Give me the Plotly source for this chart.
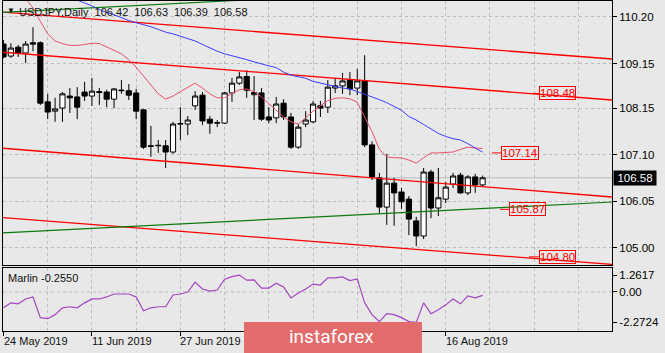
import pandas as pd
import plotly.graph_objects as go

W, H = 665, 353

# ---------------- data ----------------
dates = pd.bdate_range("2019-05-24", "2019-08-23")  # 66 daily bars
bars = list(range(len(dates)))

opens = [109.59, 109.32, 109.52, 109.39, 109.62, 109.62, 108.29, 108.08, 108.15, 108.42,
         108.40, 108.51, 108.42, 108.52, 108.51, 108.35, 108.54, 108.54, 108.49, 108.11,
         107.30, 107.30, 107.30, 107.16, 107.79, 107.79, 108.20, 108.44, 107.90, 107.81,
         107.81, 108.49, 108.71, 108.86, 108.45, 108.49, 107.95, 107.93, 108.26, 107.95,
         107.27, 107.79, 107.84, 108.20, 108.17, 108.60, 108.65, 108.78, 108.60, 108.76,
         107.32, 106.58, 105.92, 106.46, 106.26, 106.10, 105.61, 105.27, 106.71, 105.90,
         106.10, 106.44, 106.64, 106.24, 106.60, 106.42]
highs = [109.68, 109.61, 109.57, 109.66, 109.97, 109.65, 108.47, 108.38, 108.51, 108.60,
         108.62, 108.74, 108.83, 108.60, 108.56, 108.60, 108.78, 108.69, 108.58, 108.13,
         107.75, 107.43, 107.43, 107.84, 108.17, 107.97, 108.53, 108.51, 107.97, 107.88,
         108.51, 108.83, 108.96, 109.00, 108.87, 108.60, 108.17, 108.40, 108.35, 108.04,
         107.79, 108.08, 108.31, 108.31, 108.78, 108.83, 108.94, 108.96, 109.03, 109.34,
         107.40, 106.69, 107.12, 106.58, 106.35, 106.17, 105.70, 106.80, 106.76, 106.80,
         106.49, 106.69, 106.69, 106.64, 106.67, 106.63]
lows = [109.27, 109.28, 109.30, 109.16, 109.43, 108.22, 107.90, 107.84, 107.84, 108.04,
        107.90, 108.31, 108.20, 108.22, 108.17, 108.15, 108.47, 108.33, 107.90, 107.23,
        107.05, 107.14, 106.80, 107.12, 107.43, 107.54, 108.11, 107.77, 107.57, 107.72,
        107.79, 108.29, 108.67, 108.38, 107.88, 107.86, 107.81, 107.81, 107.88, 107.23,
        107.23, 107.72, 107.81, 107.95, 108.04, 108.49, 108.47, 108.44, 108.44, 107.27,
        106.53, 105.79, 105.52, 105.50, 105.88, 105.29, 105.04, 105.20, 105.67, 105.72,
        106.01, 106.35, 106.22, 106.19, 106.24, 106.39]
closes = [109.30, 109.50, 109.39, 109.59, 109.59, 108.26, 108.06, 108.13, 108.47, 108.38,
          108.17, 108.42, 108.53, 108.50, 108.35, 108.58, 108.55, 108.44, 108.08, 107.27,
          107.29, 107.31, 107.16, 107.79, 107.80, 107.88, 108.42, 107.86, 107.81, 107.82,
          108.49, 108.71, 108.85, 108.55, 108.50, 107.90, 107.88, 108.24, 107.95, 107.27,
          107.72, 107.88, 108.24, 108.15, 108.62, 108.65, 108.76, 108.58, 108.76, 107.32,
          106.60, 105.92, 106.46, 106.24, 106.04, 105.65, 105.27, 106.71, 105.90, 106.13,
          106.37, 106.62, 106.24, 106.60, 106.42, 106.58]

# Balance line (red, thin) from bar 3 onward
balance_first_bar = 3
balance_line = [110.62, 110.40, 110.10, 109.82, 109.66, 109.60, 109.56, 109.56, 109.58, 109.61,
                109.60, 109.53, 109.45, 109.37, 109.24, 109.07, 108.87, 108.68, 108.47, 108.35,
                108.42, 108.52, 108.62, 108.71, 108.60, 108.47, 108.38, 108.38, 108.48, 108.56,
                108.58, 108.52, 108.40, 108.25, 108.11, 107.95, 107.84, 107.79, 107.93, 108.08,
                108.20, 108.32, 108.37, 108.38, 108.36, 108.28, 107.95, 107.62, 107.22, 107.05,
                107.03, 107.03, 106.98, 106.91, 107.03, 107.14, 107.14, 107.15, 107.16, 107.22,
                107.27, 107.25, 107.24]
# Kruzenshtern line (blue) from bar 10 onward
kruz_first_bar = 10
kruz_line = [110.58, 110.52, 110.45, 110.37, 110.30, 110.25, 110.18, 110.12, 110.07, 110.03,
             109.98, 109.92, 109.86, 109.82, 109.77, 109.72, 109.66, 109.58, 109.50, 109.43,
             109.37, 109.33, 109.29, 109.24, 109.19, 109.14, 109.10, 109.06, 108.96, 108.89,
             108.86, 108.82, 108.75, 108.71, 108.68, 108.64, 108.60, 108.58, 108.52, 108.47,
             108.40, 108.34, 108.27, 108.19, 108.10, 107.96, 107.88, 107.78, 107.68, 107.58,
             107.51, 107.46, 107.43, 107.35, 107.25, 107.16]

# Marlin oscillator
marlin = [-1.18, -0.81, -0.88, -0.52, -0.37, -1.91, -1.99, -1.69, -1.18, -1.10,
          -1.18, -0.81, -0.52, -0.52, -0.37, -0.15, -0.15, -0.15, -0.37, -1.40,
          -1.18, -1.10, -1.10, -0.22, -0.15, 0.00, 0.74, 0.22, 0.07, 0.15,
          0.95, 1.15, 1.26, 0.88, 0.90, 0.29, 0.29, 0.66, 0.37, -0.44,
          -0.07, 0.22, 0.59, 0.52, 1.05, 1.05, 1.12, 0.85, 0.98, -0.81,
          -1.69, -2.21, -1.62, -1.69, -1.91, -2.21, -2.27, -0.81, -1.62, -1.33,
          -0.96, -0.52, -0.88, -0.29, -0.44, -0.255]

# Trend lines: bar positions of the two ends, and prices at those ends
trend_bars = [-0.475, 82.56]
red_channel = [[110.313, 109.254], [109.412, 108.331], [107.251, 106.148], [105.687, 104.630]]
green_channel = [[110.302, 111.000], [105.337, 106.035]]

# Price labels placed on the chart
label_values = [108.48, 107.14, 105.87, 104.80]
label_bars = [71.85, 66.28, 67.37, 71.30]

last_price = 106.58
title_text = "USDJPY,Daily \u00a0106.42 \u00a0106.63 \u00a0106.39 \u00a0106.58"
marlin_label = "Marlin -0.2550"

price_ticks = [110.20, 109.15, 108.15, 107.10, 106.05, 105.00]
marlin_ticks = [1.2617, 0.00, -2.2724]
marlin_tick_text = ["1.2617", "0.00", "-2.2724"]
date_tick_bars = [0, 12, 24, 60]
date_tick_labels = ["24 May 2019", "11 Jun 2019", "27 Jun 2019", "16 Aug 2019"]
grid_major_bars = [0, 12, 24, 36, 48, 60]
grid_minor_bars = [6, 18, 30, 42, 54, 66, 72, 78]

# ---------------- figure ----------------
BG = "#e8e8e8"
GRID = "#bcbcbc"
FONT = "Liberation Sans"

fig = go.Figure()

fig.add_trace(go.Candlestick(
    x=bars, open=opens, high=highs, low=lows, close=closes,
    increasing=dict(line=dict(color="black", width=1), fillcolor="white"),
    decreasing=dict(line=dict(color="black", width=1), fillcolor="black"),
    whiskerwidth=0, showlegend=False, hoverinfo="skip", xaxis="x", yaxis="y"))

for ends in red_channel:
    fig.add_trace(go.Scatter(x=trend_bars, y=ends, mode="lines",
                             line=dict(color="#ff0000", width=1.3),
                             showlegend=False, hoverinfo="skip", xaxis="x", yaxis="y"))
for ends in green_channel:
    fig.add_trace(go.Scatter(x=trend_bars, y=ends, mode="lines",
                             line=dict(color="#0a7a0a", width=1.2),
                             showlegend=False, hoverinfo="skip", xaxis="x", yaxis="y"))

fig.add_trace(go.Scatter(x=bars[balance_first_bar:], y=balance_line, mode="lines",
                         line=dict(color="#e8506a", width=1),
                         showlegend=False, hoverinfo="skip", xaxis="x", yaxis="y"))
fig.add_trace(go.Scatter(x=bars[kruz_first_bar:], y=kruz_line, mode="lines",
                         line=dict(color="#3c3cff", width=1),
                         showlegend=False, hoverinfo="skip", xaxis="x", yaxis="y"))

fig.add_trace(go.Scatter(x=bars, y=marlin, mode="lines",
                         line=dict(color="#a544c0", width=1.2),
                         showlegend=False, hoverinfo="skip", xaxis="x2", yaxis="y2"))

xr = [-0.068, 82.56]
xdom = [3 / W, 612 / W]
common_x = dict(range=xr, domain=xdom, showline=True, mirror=True, linecolor="black",
                linewidth=1, zeroline=False, showgrid=True, gridcolor=GRID,
                griddash="3px,3px", gridwidth=1)

fig.update_layout(
    width=W, height=H, margin=dict(l=0, r=0, t=0, b=0),
    paper_bgcolor=BG, plot_bgcolor=BG, showlegend=False,
    font=dict(family=FONT, size=11, color="black"),
    boxgap=0.3, boxgroupgap=0.0,
    xaxis=dict(**common_x, anchor="y", tickvals=grid_major_bars, showticklabels=False,
               ticks="", rangeslider=dict(visible=False),
               minor=dict(tickvals=grid_minor_bars, showgrid=True, gridcolor=GRID,
                          griddash="3px,3px", ticks="")),
    xaxis2=dict(**common_x, anchor="y2", tickvals=grid_major_bars, showticklabels=False,
                ticks="outside", ticklen=4, tickcolor="black",
                minor=dict(tickvals=grid_minor_bars, showgrid=True, gridcolor=GRID,
                           griddash="3px,3px", ticks="")),
    yaxis=dict(domain=[1 - 265 / H, 1 - 0.5 / H], range=[104.617, 110.571], anchor="x",
               side="right", tickvals=price_ticks, ticktext=[f"{v:.2f}" for v in price_ticks],
               ticks="outside", ticklen=4, tickcolor="black", showline=True, mirror=True,
               linecolor="black", linewidth=1, showgrid=True, gridcolor=GRID,
               griddash="3px,3px", zeroline=False, tickfont=dict(size=11.5)),
    yaxis2=dict(domain=[1 - 331 / H, 1 - 268 / H], range=[-2.91, 1.79], anchor="x2",
                side="right", tickvals=marlin_ticks, ticktext=marlin_tick_text,
                ticks="outside", ticklen=4, tickcolor="black", showline=True, mirror=True,
                linecolor="black", linewidth=1, showgrid=False, zeroline=False,
                tickfont=dict(size=11.5)),
)

shapes = [
    # bid line
    dict(type="line", xref="x domain", x0=0, x1=1, yref="y", y0=last_price, y1=last_price,
         line=dict(color="#c9c9c9", width=1.5), layer="below"),
    # marlin zero grid
    dict(type="line", xref="x2 domain", x0=0, x1=1, yref="y2", y0=0, y1=0,
         line=dict(color=GRID, width=1, dash="3px,3px"), layer="below"),
    # watermark box
    dict(type="rect", xref="paper", yref="paper", x0=244 / W, x1=422 / W,
         y0=0, y1=1 - 322 / H, fillcolor="#e26b6b", line=dict(width=0), layer="above"),
]

annotations = [
    dict(xref="paper", yref="paper", x=5 / W, y=1 - 11 / H, xanchor="left", yanchor="middle",
         text="\u25BC", showarrow=False, font=dict(size=8, color="black")),
    dict(xref="paper", yref="paper", x=17 / W, y=1 - 12 / H, xanchor="left", yanchor="middle",
         text=title_text, showarrow=False, font=dict(size=11, color="#111")),
    dict(xref="paper", yref="paper", x=6 / W, y=1 - 278 / H, xanchor="left", yanchor="middle",
         text=marlin_label, showarrow=False, font=dict(size=11, color="#111")),
    dict(xref="paper", yref="y", x=613 / W, y=last_price, xanchor="left", yanchor="middle",
         text=f"{last_price:.2f}", showarrow=False, bgcolor="black", width=42, height=14,
         borderpad=0, font=dict(size=11.5, color="white")),
    dict(xref="paper", yref="paper", x=331.5 / W, y=1 - 336 / H, xanchor="center",
         yanchor="middle", text="instaforex", showarrow=False,
         font=dict(family="Roboto", size=19, color="white")),
]
offsets = [24, 27.5, 27.5, 28]
for val, b, off in zip(label_values, label_bars, offsets):
    annotations.append(dict(xref="x", yref="y", x=b, y=val, text=f"{val:.2f}",
                            showarrow=True, arrowhead=0, arrowwidth=1, arrowcolor="red",
                            ax=off, ay=0, standoff=0, startstandoff=0,
                            bordercolor="red", borderwidth=1, borderpad=0,
                            font=dict(size=11.5, color="red")))
for b, lab in zip(date_tick_bars, date_tick_labels):
    annotations.append(dict(xref="x2", yref="paper", x=b, y=1 - 341 / H, xanchor="left",
                            yanchor="middle", text=lab, showarrow=False, xshift=-2,
                            font=dict(size=11, color="#111")))

fig.update_layout(shapes=shapes, annotations=annotations)
fig.write_html("out.html")
